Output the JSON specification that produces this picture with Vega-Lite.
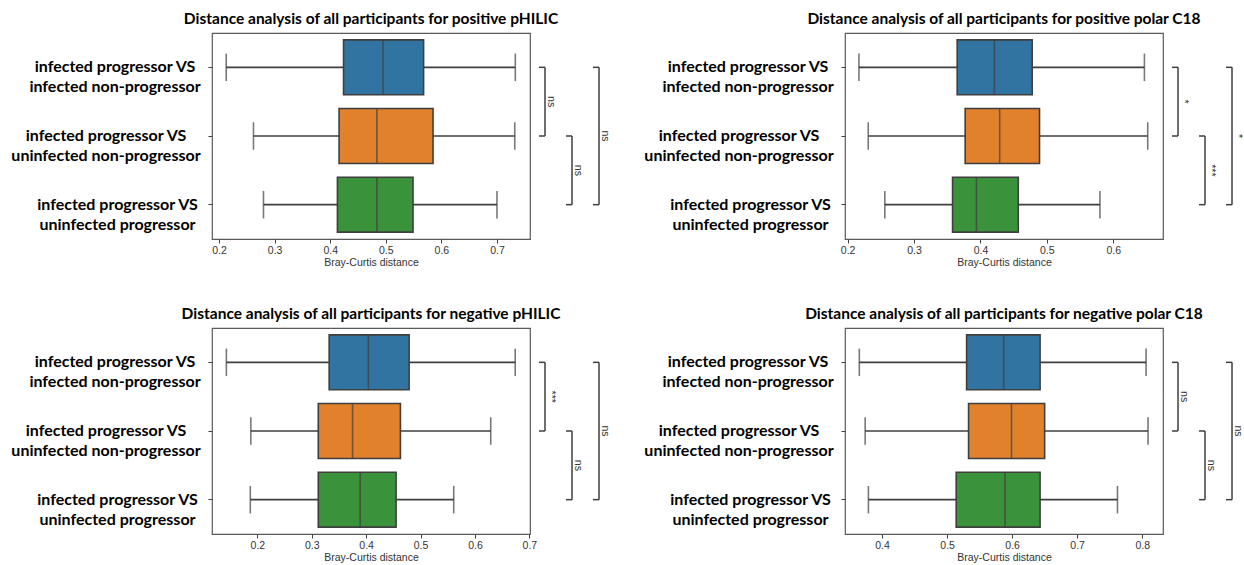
{
  "$schema": "https://vega.github.io/schema/vega-lite/v6.json",
  "background": "white",
  "padding": {"left": 10, "top": 10, "right": 0, "bottom": 0},
  "datasets": {
    "boxes": [
      {"panel": "pp", "comparison": "infected progressor VS infected non-progressor", "lo": 0.213, "q1": 0.424, "median": 0.495, "q3": 0.568, "hi": 0.733},
      {"panel": "pp", "comparison": "infected progressor VS uninfected non-progressor", "lo": 0.262, "q1": 0.416, "median": 0.484, "q3": 0.585, "hi": 0.732},
      {"panel": "pp", "comparison": "infected progressor VS uninfected progressor", "lo": 0.280, "q1": 0.413, "median": 0.484, "q3": 0.549, "hi": 0.700},
      {"panel": "pc", "comparison": "infected progressor VS infected non-progressor", "lo": 0.217, "q1": 0.365, "median": 0.421, "q3": 0.478, "hi": 0.647},
      {"panel": "pc", "comparison": "infected progressor VS uninfected non-progressor", "lo": 0.231, "q1": 0.377, "median": 0.429, "q3": 0.489, "hi": 0.652},
      {"panel": "pc", "comparison": "infected progressor VS uninfected progressor", "lo": 0.256, "q1": 0.358, "median": 0.394, "q3": 0.457, "hi": 0.580},
      {"panel": "np", "comparison": "infected progressor VS infected non-progressor", "lo": 0.143, "q1": 0.332, "median": 0.404, "q3": 0.479, "hi": 0.674},
      {"panel": "np", "comparison": "infected progressor VS uninfected non-progressor", "lo": 0.188, "q1": 0.312, "median": 0.375, "q3": 0.463, "hi": 0.629},
      {"panel": "np", "comparison": "infected progressor VS uninfected progressor", "lo": 0.187, "q1": 0.312, "median": 0.389, "q3": 0.455, "hi": 0.561},
      {"panel": "nc", "comparison": "infected progressor VS infected non-progressor", "lo": 0.365, "q1": 0.530, "median": 0.587, "q3": 0.643, "hi": 0.806},
      {"panel": "nc", "comparison": "infected progressor VS uninfected non-progressor", "lo": 0.374, "q1": 0.533, "median": 0.599, "q3": 0.650, "hi": 0.809},
      {"panel": "nc", "comparison": "infected progressor VS uninfected progressor", "lo": 0.379, "q1": 0.514, "median": 0.589, "q3": 0.643, "hi": 0.762}
    ],
    "brackets": [
      {"panel": "pp", "level": 1, "from": 0, "to": 1, "mid": 0.5, "label": "ns"},
      {"panel": "pp", "level": 2, "from": 1, "to": 2, "mid": 1.5, "label": "ns"},
      {"panel": "pp", "level": 3, "from": 0, "to": 2, "mid": 1.0, "label": "ns"},
      {"panel": "pc", "level": 1, "from": 0, "to": 1, "mid": 0.5, "label": "*"},
      {"panel": "pc", "level": 2, "from": 1, "to": 2, "mid": 1.5, "label": "***"},
      {"panel": "pc", "level": 3, "from": 0, "to": 2, "mid": 1.0, "label": "*"},
      {"panel": "np", "level": 1, "from": 0, "to": 1, "mid": 0.5, "label": "***"},
      {"panel": "np", "level": 2, "from": 1, "to": 2, "mid": 1.5, "label": "ns"},
      {"panel": "np", "level": 3, "from": 0, "to": 2, "mid": 1.0, "label": "ns"},
      {"panel": "nc", "level": 1, "from": 0, "to": 1, "mid": 0.5, "label": "ns"},
      {"panel": "nc", "level": 2, "from": 1, "to": 2, "mid": 1.5, "label": "ns"},
      {"panel": "nc", "level": 3, "from": 0, "to": 2, "mid": 1.0, "label": "ns"}
    ]
  },
  "bounds": "flush",
  "columns": 4,
  "spacing": {"row": 89, "column": 0},
  "concat": [
    {
      "width": 318, "height": 206,
      "title": "Distance analysis of all participants for positive pHILIC",
      "data": {"name": "boxes"},
      "transform": [{"filter": "datum.panel === 'pp'"}],
      "encoding": {
        "y": {"field": "comparison", "type": "nominal", "title": null,
          "sort": ["infected progressor VS infected non-progressor", "infected progressor VS uninfected non-progressor", "infected progressor VS uninfected progressor"],
          "scale": {"paddingInner": 0, "paddingOuter": 0}}
      },
      "layer": [
        {"mark": {"type": "rule", "color": "#3f3f3f", "strokeWidth": 1.6},
         "encoding": {"x": {"field": "lo", "type": "quantitative", "title": "Bray-Curtis distance", "scale": {"domain": [0.1874, 0.7594], "nice": false, "zero": false}, "axis": {"values": [0.2, 0.3, 0.4, 0.5, 0.6, 0.7], "format": ".1f"}}, "x2": {"field": "hi"}}},
        {"mark": {"type": "tick", "orient": "vertical", "size": 27.5, "thickness": 1.6, "color": "#3f3f3f"},
         "encoding": {"x": {"field": "lo", "type": "quantitative", "title": "Bray-Curtis distance"}}},
        {"mark": {"type": "tick", "orient": "vertical", "size": 27.5, "thickness": 1.6, "color": "#3f3f3f"},
         "encoding": {"x": {"field": "hi", "type": "quantitative", "title": "Bray-Curtis distance"}}},
        {"mark": {"type": "bar", "height": {"band": 0.8}, "stroke": "#3f3f3f", "strokeWidth": 1.6, "opacity": 1},
         "encoding": {"x": {"field": "q1", "type": "quantitative", "title": "Bray-Curtis distance"}, "x2": {"field": "q3"},
           "color": {"field": "comparison", "type": "nominal", "legend": null,
             "scale": {"domain": ["infected progressor VS infected non-progressor", "infected progressor VS uninfected non-progressor", "infected progressor VS uninfected progressor"], "range": ["#3274a1", "#e1812c", "#3a923a"]}}}},
        {"mark": {"type": "tick", "orient": "vertical", "size": 55, "thickness": 1.6, "color": "#3f3f3f"},
         "encoding": {"x": {"field": "median", "type": "quantitative", "title": "Bray-Curtis distance"}}}
      ]
    },
    {
      "width": 315, "height": 206,
      "view": {"stroke": null},
      "data": {"name": "brackets"},
      "transform": [{"filter": "datum.panel === 'pp'"}],
      "encoding": {"x": {"field": "level", "type": "quantitative", "axis": null, "scale": {"domain": [0.444, 12.111], "nice": false, "zero": false}}},
      "layer": [
        {"mark": {"type": "rule", "color": "#3f3f3f", "strokeWidth": 1.5},
         "encoding": {"y": {"field": "from", "type": "quantitative", "axis": null, "scale": {"domain": [-0.5, 2.5], "reverse": true, "nice": false, "zero": false}}, "y2": {"field": "to"}}},
        {"mark": {"type": "rule", "color": "#3f3f3f", "strokeWidth": 1.5, "xOffset": -6},
         "encoding": {"x2": {"field": "level"}, "y": {"field": "from", "type": "quantitative", "axis": null}}},
        {"mark": {"type": "rule", "color": "#3f3f3f", "strokeWidth": 1.5, "xOffset": -6},
         "encoding": {"x2": {"field": "level"}, "y": {"field": "to", "type": "quantitative", "axis": null}}},
        {"mark": {"type": "text", "angle": 90, "align": "center", "baseline": "alphabetic", "xOffset": 3, "font": "Liberation Sans", "fontSize": 10.5, "color": "#333333"},
         "encoding": {"y": {"field": "mid", "type": "quantitative", "axis": null}, "text": {"field": "label"}}}
      ]
    },
    {
      "width": 318, "height": 206,
      "title": "Distance analysis of all participants for positive polar C18",
      "data": {"name": "boxes"},
      "transform": [{"filter": "datum.panel === 'pc'"}],
      "encoding": {
        "y": {"field": "comparison", "type": "nominal", "title": null,
          "sort": ["infected progressor VS infected non-progressor", "infected progressor VS uninfected non-progressor", "infected progressor VS uninfected progressor"],
          "scale": {"paddingInner": 0, "paddingOuter": 0}}
      },
      "layer": [
        {"mark": {"type": "rule", "color": "#3f3f3f", "strokeWidth": 1.6},
         "encoding": {"x": {"field": "lo", "type": "quantitative", "title": "Bray-Curtis distance", "scale": {"domain": [0.196, 0.675], "nice": false, "zero": false}, "axis": {"values": [0.2, 0.3, 0.4, 0.5, 0.6], "format": ".1f"}}, "x2": {"field": "hi"}}},
        {"mark": {"type": "tick", "orient": "vertical", "size": 27.5, "thickness": 1.6, "color": "#3f3f3f"},
         "encoding": {"x": {"field": "lo", "type": "quantitative", "title": "Bray-Curtis distance"}}},
        {"mark": {"type": "tick", "orient": "vertical", "size": 27.5, "thickness": 1.6, "color": "#3f3f3f"},
         "encoding": {"x": {"field": "hi", "type": "quantitative", "title": "Bray-Curtis distance"}}},
        {"mark": {"type": "bar", "height": {"band": 0.8}, "stroke": "#3f3f3f", "strokeWidth": 1.6, "opacity": 1},
         "encoding": {"x": {"field": "q1", "type": "quantitative", "title": "Bray-Curtis distance"}, "x2": {"field": "q3"},
           "color": {"field": "comparison", "type": "nominal", "legend": null,
             "scale": {"domain": ["infected progressor VS infected non-progressor", "infected progressor VS uninfected non-progressor", "infected progressor VS uninfected progressor"], "range": ["#3274a1", "#e1812c", "#3a923a"]}}}},
        {"mark": {"type": "tick", "orient": "vertical", "size": 55, "thickness": 1.6, "color": "#3f3f3f"},
         "encoding": {"x": {"field": "median", "type": "quantitative", "title": "Bray-Curtis distance"}}}
      ]
    },
    {
      "width": 81, "height": 206,
      "view": {"stroke": null},
      "data": {"name": "brackets"},
      "transform": [{"filter": "datum.panel === 'pc'"}],
      "encoding": {"x": {"field": "level", "type": "quantitative", "axis": null, "scale": {"domain": [0.444, 3.444], "nice": false, "zero": false}}},
      "layer": [
        {"mark": {"type": "rule", "color": "#3f3f3f", "strokeWidth": 1.5},
         "encoding": {"y": {"field": "from", "type": "quantitative", "axis": null, "scale": {"domain": [-0.5, 2.5], "reverse": true, "nice": false, "zero": false}}, "y2": {"field": "to"}}},
        {"mark": {"type": "rule", "color": "#3f3f3f", "strokeWidth": 1.5, "xOffset": -6},
         "encoding": {"x2": {"field": "level"}, "y": {"field": "from", "type": "quantitative", "axis": null}}},
        {"mark": {"type": "rule", "color": "#3f3f3f", "strokeWidth": 1.5, "xOffset": -6},
         "encoding": {"x2": {"field": "level"}, "y": {"field": "to", "type": "quantitative", "axis": null}}},
        {"mark": {"type": "text", "angle": 90, "align": "center", "baseline": "alphabetic", "xOffset": 3, "font": "Liberation Sans", "fontSize": 10.5, "color": "#333333"},
         "encoding": {"y": {"field": "mid", "type": "quantitative", "axis": null}, "text": {"field": "label"}}}
      ]
    },
    {
      "width": 318, "height": 206,
      "title": "Distance analysis of all participants for negative pHILIC",
      "data": {"name": "boxes"},
      "transform": [{"filter": "datum.panel === 'np'"}],
      "encoding": {
        "y": {"field": "comparison", "type": "nominal", "title": null,
          "sort": ["infected progressor VS infected non-progressor", "infected progressor VS uninfected non-progressor", "infected progressor VS uninfected progressor"],
          "scale": {"paddingInner": 0, "paddingOuter": 0}}
      },
      "layer": [
        {"mark": {"type": "rule", "color": "#3f3f3f", "strokeWidth": 1.6},
         "encoding": {"x": {"field": "lo", "type": "quantitative", "title": "Bray-Curtis distance", "scale": {"domain": [0.1166, 0.7012], "nice": false, "zero": false}, "axis": {"values": [0.2, 0.3, 0.4, 0.5, 0.6, 0.7], "format": ".1f"}}, "x2": {"field": "hi"}}},
        {"mark": {"type": "tick", "orient": "vertical", "size": 27.5, "thickness": 1.6, "color": "#3f3f3f"},
         "encoding": {"x": {"field": "lo", "type": "quantitative", "title": "Bray-Curtis distance"}}},
        {"mark": {"type": "tick", "orient": "vertical", "size": 27.5, "thickness": 1.6, "color": "#3f3f3f"},
         "encoding": {"x": {"field": "hi", "type": "quantitative", "title": "Bray-Curtis distance"}}},
        {"mark": {"type": "bar", "height": {"band": 0.8}, "stroke": "#3f3f3f", "strokeWidth": 1.6, "opacity": 1},
         "encoding": {"x": {"field": "q1", "type": "quantitative", "title": "Bray-Curtis distance"}, "x2": {"field": "q3"},
           "color": {"field": "comparison", "type": "nominal", "legend": null,
             "scale": {"domain": ["infected progressor VS infected non-progressor", "infected progressor VS uninfected non-progressor", "infected progressor VS uninfected progressor"], "range": ["#3274a1", "#e1812c", "#3a923a"]}}}},
        {"mark": {"type": "tick", "orient": "vertical", "size": 55, "thickness": 1.6, "color": "#3f3f3f"},
         "encoding": {"x": {"field": "median", "type": "quantitative", "title": "Bray-Curtis distance"}}}
      ]
    },
    {
      "width": 315, "height": 206,
      "view": {"stroke": null},
      "data": {"name": "brackets"},
      "transform": [{"filter": "datum.panel === 'np'"}],
      "encoding": {"x": {"field": "level", "type": "quantitative", "axis": null, "scale": {"domain": [0.444, 12.111], "nice": false, "zero": false}}},
      "layer": [
        {"mark": {"type": "rule", "color": "#3f3f3f", "strokeWidth": 1.5},
         "encoding": {"y": {"field": "from", "type": "quantitative", "axis": null, "scale": {"domain": [-0.5, 2.5], "reverse": true, "nice": false, "zero": false}}, "y2": {"field": "to"}}},
        {"mark": {"type": "rule", "color": "#3f3f3f", "strokeWidth": 1.5, "xOffset": -6},
         "encoding": {"x2": {"field": "level"}, "y": {"field": "from", "type": "quantitative", "axis": null}}},
        {"mark": {"type": "rule", "color": "#3f3f3f", "strokeWidth": 1.5, "xOffset": -6},
         "encoding": {"x2": {"field": "level"}, "y": {"field": "to", "type": "quantitative", "axis": null}}},
        {"mark": {"type": "text", "angle": 90, "align": "center", "baseline": "alphabetic", "xOffset": 3, "font": "Liberation Sans", "fontSize": 10.5, "color": "#333333"},
         "encoding": {"y": {"field": "mid", "type": "quantitative", "axis": null}, "text": {"field": "label"}}}
      ]
    },
    {
      "width": 318, "height": 206,
      "title": "Distance analysis of all participants for negative polar C18",
      "data": {"name": "boxes"},
      "transform": [{"filter": "datum.panel === 'nc'"}],
      "encoding": {
        "y": {"field": "comparison", "type": "nominal", "title": null,
          "sort": ["infected progressor VS infected non-progressor", "infected progressor VS uninfected non-progressor", "infected progressor VS uninfected progressor"],
          "scale": {"paddingInner": 0, "paddingOuter": 0}}
      },
      "layer": [
        {"mark": {"type": "rule", "color": "#3f3f3f", "strokeWidth": 1.6},
         "encoding": {"x": {"field": "lo", "type": "quantitative", "title": "Bray-Curtis distance", "scale": {"domain": [0.343, 0.832], "nice": false, "zero": false}, "axis": {"values": [0.4, 0.5, 0.6, 0.7, 0.8], "format": ".1f"}}, "x2": {"field": "hi"}}},
        {"mark": {"type": "tick", "orient": "vertical", "size": 27.5, "thickness": 1.6, "color": "#3f3f3f"},
         "encoding": {"x": {"field": "lo", "type": "quantitative", "title": "Bray-Curtis distance"}}},
        {"mark": {"type": "tick", "orient": "vertical", "size": 27.5, "thickness": 1.6, "color": "#3f3f3f"},
         "encoding": {"x": {"field": "hi", "type": "quantitative", "title": "Bray-Curtis distance"}}},
        {"mark": {"type": "bar", "height": {"band": 0.8}, "stroke": "#3f3f3f", "strokeWidth": 1.6, "opacity": 1},
         "encoding": {"x": {"field": "q1", "type": "quantitative", "title": "Bray-Curtis distance"}, "x2": {"field": "q3"},
           "color": {"field": "comparison", "type": "nominal", "legend": null,
             "scale": {"domain": ["infected progressor VS infected non-progressor", "infected progressor VS uninfected non-progressor", "infected progressor VS uninfected progressor"], "range": ["#3274a1", "#e1812c", "#3a923a"]}}}},
        {"mark": {"type": "tick", "orient": "vertical", "size": 55, "thickness": 1.6, "color": "#3f3f3f"},
         "encoding": {"x": {"field": "median", "type": "quantitative", "title": "Bray-Curtis distance"}}}
      ]
    },
    {
      "width": 81, "height": 206,
      "view": {"stroke": null},
      "data": {"name": "brackets"},
      "transform": [{"filter": "datum.panel === 'nc'"}],
      "encoding": {"x": {"field": "level", "type": "quantitative", "axis": null, "scale": {"domain": [0.444, 3.444], "nice": false, "zero": false}}},
      "layer": [
        {"mark": {"type": "rule", "color": "#3f3f3f", "strokeWidth": 1.5},
         "encoding": {"y": {"field": "from", "type": "quantitative", "axis": null, "scale": {"domain": [-0.5, 2.5], "reverse": true, "nice": false, "zero": false}}, "y2": {"field": "to"}}},
        {"mark": {"type": "rule", "color": "#3f3f3f", "strokeWidth": 1.5, "xOffset": -6},
         "encoding": {"x2": {"field": "level"}, "y": {"field": "from", "type": "quantitative", "axis": null}}},
        {"mark": {"type": "rule", "color": "#3f3f3f", "strokeWidth": 1.5, "xOffset": -6},
         "encoding": {"x2": {"field": "level"}, "y": {"field": "to", "type": "quantitative", "axis": null}}},
        {"mark": {"type": "text", "angle": 90, "align": "center", "baseline": "alphabetic", "xOffset": 3, "font": "Liberation Sans", "fontSize": 10.5, "color": "#333333"},
         "encoding": {"y": {"field": "mid", "type": "quantitative", "axis": null}, "text": {"field": "label"}}}
      ]
    }
  ],
  "config": {
    "view": {"stroke": "#5a5a5a", "strokeWidth": 1.2},
    "title": {"font": "Lato", "fontSize": 15.5, "fontWeight": "bold", "color": "#000000", "offset": 6, "anchor": "middle"},
    "axis": {"domain": false, "grid": false, "tickColor": "#404040", "tickSize": 4, "tickWidth": 1,
      "labelFont": "Liberation Sans", "labelFontSize": 10.5, "labelColor": "#333333",
      "titleFont": "Liberation Sans", "titleFontSize": 10.5, "titleColor": "#333333", "titleFontWeight": "normal"},
    "axisX": {"labelPadding": 2, "titlePadding": 2, "labelFlush": false},
    "axisY": {"labelFont": "Lato", "labelFontWeight": "bold", "labelFontSize": 16, "labelColor": "#000000",
      "labelLineHeight": 20, "labelLimit": 400, "labelBaseline": "middle", "labelAlign": "center",
      "labelPadding": {"condition": [{"test": "length(datum.value) == 48", "value": 102.5}, {"test": "length(datum.value) == 46", "value": 93.5}], "value": 91},
      "labelExpr": "[slice(datum.value, 0, 22), slice(datum.value, 23)]"}
  }
}
